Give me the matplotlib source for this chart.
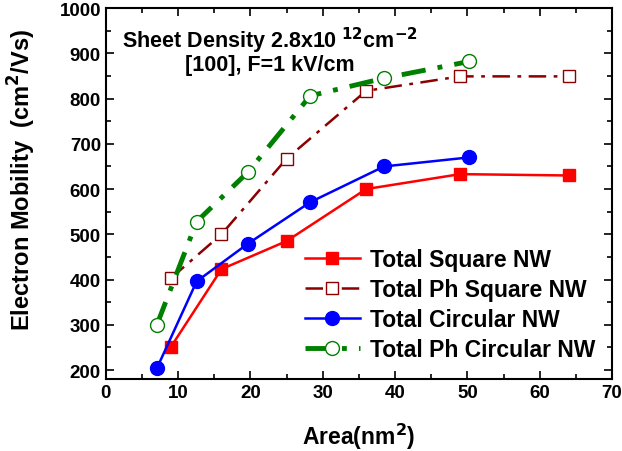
import numpy as np
import matplotlib
matplotlib.use("Agg")
import matplotlib.pyplot as plt
from matplotlib.ticker import MultipleLocator

plt.rcParams['font.family'] = ['Liberation Sans', 'DejaVu Sans']
plt.rcParams['font.weight'] = 'bold'
plt.rcParams['mathtext.default'] = 'bf'

# square nanowires
sq_area = [9, 16, 25, 36, 49, 64]
sq_total = [251, 423, 485, 600, 633, 630]
sq_ph = [403, 500, 667, 817, 849, 849]

# circular nanowires
circ_area = [7.07, 12.57, 19.63, 28.27, 38.48, 50.27]
circ_total = [204, 396, 479, 571, 650, 670]
circ_ph = [300, 528, 637, 806, 845, 882]

fig = plt.figure(figsize=(6.22, 4.52), dpi=100)
ax = fig.add_axes([0.170, 0.159, 0.814, 0.821])

ax.plot(sq_area, sq_total, color='red', lw=1.8, marker='s', ms=8.5,
        mfc='red', mec='red', label='Total Square NW')
ax.plot(sq_area, sq_ph, color='#8b0000', lw=1.8, ls=(0, (7, 3, 1.5, 3)), marker='s', ms=8.5,
        mfc='white', mec='#8b0000', mew=1.0, label='Total Ph Square NW')
ax.plot(circ_area, circ_total, color='blue', lw=1.8, marker='o', ms=10,
        mfc='blue', mec='blue', label='Total Circular NW')
ax.plot(circ_area, circ_ph, color='green', lw=3.5, ls=(0, (5, 2.5, 1, 2.5)), marker='o', ms=10,
        mfc='white', mec='green', mew=1.0, label='Total Ph Circular NW')

ax.set_xlim(0, 70)
ax.set_ylim(180, 1000)
ax.xaxis.set_major_locator(MultipleLocator(10))
ax.xaxis.set_minor_locator(MultipleLocator(5))
ax.yaxis.set_major_locator(MultipleLocator(100))
ax.yaxis.set_minor_locator(MultipleLocator(50))
ax.set_yticks(np.arange(200, 1001, 100))
ax.tick_params(which='both', direction='in', top=True, right=True, width=1.2, labelsize=13.5)
ax.tick_params(which='major', length=6)
ax.tick_params(which='minor', length=3.5)
for s in ax.spines.values():
    s.set_linewidth(1.5)

ax.set_xlabel('Area(nm$^2$)', fontsize=16.5, fontweight='bold', va='center')
ax.xaxis.set_label_coords(0.5, -0.154)
ax.set_ylabel('Electron Mobility  (cm$^2$/Vs)', fontsize=17, fontweight='bold', va='center')
ax.yaxis.set_label_coords(-0.166, 0.54)

ax.text(0.324, 0.955, 'Sheet Density 2.8x10$^{\\ 12}$cm$^{-2}$', transform=ax.transAxes,
        ha='center', va='top', fontsize=15.5, fontweight='bold')
ax.text(0.324, 0.875, '[100], F=1 kV/cm', transform=ax.transAxes,
        ha='center', va='top', fontsize=15.5, fontweight='bold')

ax.legend(loc='lower right', bbox_to_anchor=(0.985, 0.024), frameon=False,
          handlelength=2.4, handletextpad=0.45, borderaxespad=0.0, labelspacing=0.3,
          prop={'weight': 'bold', 'size': 16.5})

fig.savefig('out.png', dpi=100)
